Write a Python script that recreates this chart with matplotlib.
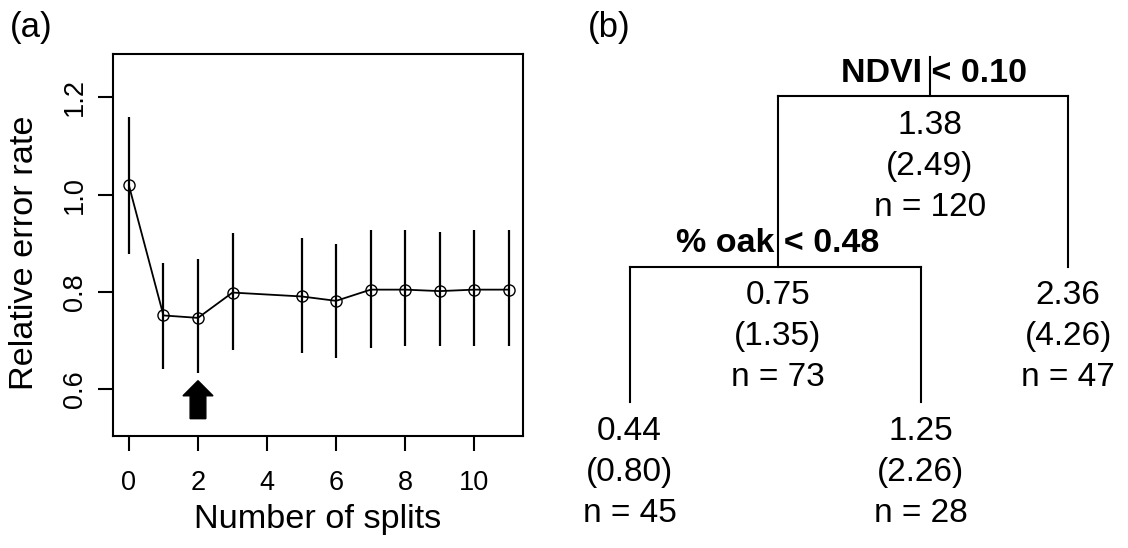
import matplotlib.pyplot as plt

plt.rcParams['font.family'] = ['Liberation Sans', 'DejaVu Sans']

# (a) cross-validated relative error vs tree size
splits = [0, 1, 2, 3, 5, 6, 7, 8, 9, 10, 11]
rel_error = [1.019, 0.752, 0.747, 0.799, 0.791, 0.782, 0.805, 0.805, 0.802, 0.805, 0.805]
err_low = [0.879, 0.641, 0.634, 0.682, 0.674, 0.664, 0.686, 0.689, 0.689, 0.689, 0.689]
err_high = [1.159, 0.860, 0.867, 0.922, 0.912, 0.899, 0.927, 0.927, 0.923, 0.927, 0.927]
best_split = 2
x_ticks = [0, 2, 4, 6, 8, 10]
y_ticks = [0.6, 0.8, 1.0, 1.2]

# (b) regression tree
nodes = ['root', 'oak', 'leaf_lo', 'leaf_mid', 'leaf_hi']
node_mean = ['1.38', '0.75', '0.44', '1.25', '2.36']
node_sd = ['(2.49)', '(1.35)', '(0.80)', '(2.26)', '(4.26)']
node_n = [120, 73, 45, 28, 47]
split_rule = {'root': 'NDVI < 0.10', 'oak': '% oak < 0.48'}
children = {'root': ('oak', 'leaf_hi'), 'oak': ('leaf_lo', 'leaf_mid')}

# tree layout (panel units, y grows downward)
node_x = {'root': 930, 'oak': 778, 'leaf_lo': 629.5, 'leaf_mid': 920.7, 'leaf_hi': 1068.3}
node_y = {'root': 96, 'oak': 267, 'leaf_lo': 402, 'leaf_mid': 402, 'leaf_hi': 267}
rule_shift = {'root': 4, 'oak': 0}

fig = plt.figure(figsize=(11.28, 5.48), dpi=100)

# ---- panel (a)
ax = fig.add_axes([0.0999, 0.2049, 0.364, 0.6966])
ax.vlines(splits, err_low, err_high, color='black', lw=1.6)
ax.plot(splits, rel_error, color='black', lw=1.3, marker='o', ms=8,
        mfc='none', mec='black', mew=1.0)
ax.arrow(best_split, 0.540, 0, 0.078, width=0.455, head_width=0.87,
         head_length=0.031, length_includes_head=True, fc='black', ec='black')
ax.set_xlim(-0.47, 11.42)
ax.set_ylim(0.505, 1.289)
ax.set_xticks(x_ticks)
ax.set_yticks(y_ticks)
ax.set_yticklabels(['0.6', '0.8', '1.0', '1.2'])
for s in ax.spines.values():
    s.set_linewidth(1.5)
ax.tick_params(length=10.8, width=1.5, labelsize=19.5, color='black')
ax.tick_params(axis='x', pad=14)
ax.tick_params(axis='y', pad=7)
plt.setp(ax.get_yticklabels(), rotation=90, va='center')
ax.set_xlabel('Number of splits', fontsize=24.7)
ax.set_ylabel('Relative error rate', fontsize=24.7)
ax.xaxis.set_label_coords(0.5, -0.18)
ax.yaxis.set_label_coords(-0.177, 0.48)

# ---- panel (b)
ax2 = fig.add_axes([0.5, 0, 0.5, 1])
ax2.set_xlim(564, 1128)
ax2.set_ylim(548, 0)
ax2.axis('off')

for parent, (left, right) in children.items():
    px, py = node_x[parent], node_y[parent]
    if parent == 'root':
        ax2.plot([px, px], [py - 39, py], color='black', lw=1.5)
    ax2.plot([node_x[left], node_x[right]], [py, py], color='black', lw=1.5,
             solid_capstyle='projecting')
    for c in (left, right):
        ax2.plot([node_x[c], node_x[c]], [py, node_y[c]], color='black', lw=1.5)
    ax2.text(px + rule_shift[parent], py - 23, split_rule[parent], ha='center',
             va='center', fontsize=24.5, fontweight='bold')

for i, nd in enumerate(nodes):
    lines = [node_mean[i], node_sd[i], 'n = %d' % node_n[i]]
    for k, t in enumerate(lines):
        ax2.text(node_x[nd], node_y[nd] + 29 + 41 * k, t, ha='center',
                 va='center', fontsize=24)

fig.text(31 / 1128, 1 - 27 / 548, '(a)', ha='center', va='center', fontsize=25)
fig.text(609 / 1128, 1 - 27 / 548, '(b)', ha='center', va='center', fontsize=25)

fig.savefig('out.png', dpi=100)
